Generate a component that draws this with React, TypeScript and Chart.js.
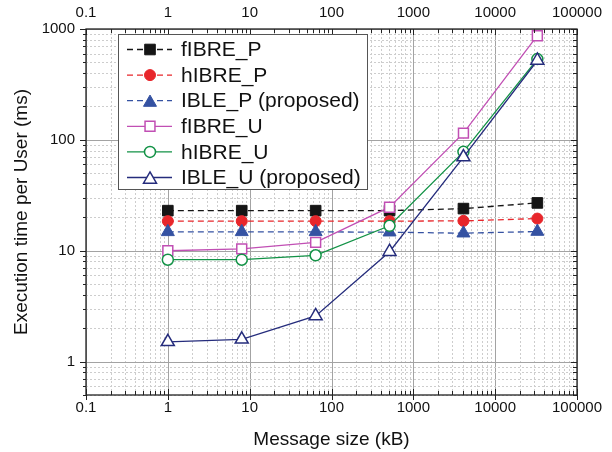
import React, { useEffect, useRef } from 'react';
import { Chart, registerables } from 'chart.js';

Chart.register(...registerables);

// ---- data ----
const messageSizes = [1, 8, 64, 512, 4096, 32768];
const fIBRE_P = [23.0, 23.0, 23.0, 23.0, 24.0, 27.0];
const hIBRE_P = [18.5, 18.5, 18.5, 18.5, 18.6, 19.5];
const IBLE_P = [14.8, 14.8, 14.8, 14.7, 14.4, 14.9];
const fIBRE_U = [10.0, 10.4, 11.9, 24.7, 115, 870];
const hIBRE_U = [8.3, 8.3, 9.1, 16.8, 78, 535];
const IBLE_U = [1.51, 1.59, 2.58, 9.8, 70, 520];

const seriesNames = ['fIBRE_P', 'hIBRE_P', 'IBLE_P (proposed)', 'fIBRE_U', 'hIBRE_U', 'IBLE_U (proposed)'];

const xTickValues = [0.1, 1, 10, 100, 1000, 10000, 100000];
const xTickLabels = ['0.1', '1', '10', '100', '1000', '10000', '100000'];
const yTickValues = [1, 10, 100, 1000];
const yTickLabels = ['1', '10', '100', '1000'];

const X_MIN = 0.1;
const X_MAX = 100000;
const Y_MIN = 0.5;
const Y_MAX = 1000;

const FONT = '"Liberation Sans", Arial, Helvetica, sans-serif';

function labelFor(values: number[], labels: string[], v: number): string {
  for (let i = 0; i < values.length; i++) {
    if (Math.abs(Math.log10(v) - Math.log10(values[i])) < 1e-6) return labels[i];
  }
  return '';
}

function logValues(min: number, max: number) {
  const out: { v: number; major: boolean }[] = [];
  const e0 = Math.floor(Math.log10(min));
  const e1 = Math.ceil(Math.log10(max));
  for (let e = e0; e <= e1; e++) {
    for (let m = 1; m <= 9; m++) {
      const v = m * Math.pow(10, e);
      if (v >= min * 0.9999 && v <= max * 1.0001) out.push({ v, major: m === 1 });
    }
  }
  return out;
}

function drawMarker(ctx: CanvasRenderingContext2D, style: string, x: number, y: number, r: number, fill: string, stroke: string, lw: number) {
  ctx.save();
  ctx.beginPath();
  if (style === 'rect') {
    const s = r * Math.SQRT1_2;
    ctx.rect(x - s, y - s, 2 * s, 2 * s);
  } else if (style === 'triangle') {
    let rad = 0;
    ctx.moveTo(x + Math.sin(rad) * r, y - Math.cos(rad) * r);
    rad += (2 * Math.PI) / 3;
    ctx.lineTo(x + Math.sin(rad) * r, y - Math.cos(rad) * r);
    rad += (2 * Math.PI) / 3;
    ctx.lineTo(x + Math.sin(rad) * r, y - Math.cos(rad) * r);
    ctx.closePath();
  } else {
    ctx.arc(x, y, r, 0, Math.PI * 2);
  }
  ctx.fillStyle = fill;
  ctx.fill();
  ctx.lineWidth = lw;
  ctx.strokeStyle = stroke;
  ctx.setLineDash([]);
  ctx.stroke();
  ctx.restore();
}

const gridPlugin = {
  id: 'customGrid',
  beforeDatasetsDraw(chart: any) {
    const { ctx, chartArea: a } = chart;
    const xs = chart.scales.x;
    const ys = chart.scales.y;
    ctx.save();
    ctx.lineWidth = 1;
    for (const t of logValues(X_MIN, X_MAX)) {
      const px = Math.round(xs.getPixelForValue(t.v)) + 0.5;
      ctx.beginPath();
      if (t.major) {
        ctx.setLineDash([]);
        ctx.strokeStyle = '#a3a3a3';
      } else {
        ctx.setLineDash([2, 2]);
        ctx.strokeStyle = '#cdcdcd';
      }
      ctx.moveTo(px, a.top);
      ctx.lineTo(px, a.bottom);
      ctx.stroke();
    }
    for (const t of logValues(Y_MIN, Y_MAX)) {
      const py = Math.round(ys.getPixelForValue(t.v)) + 0.5;
      ctx.beginPath();
      if (t.major) {
        ctx.setLineDash([]);
        ctx.strokeStyle = '#a3a3a3';
      } else {
        ctx.setLineDash([2, 2]);
        ctx.strokeStyle = '#cdcdcd';
      }
      ctx.moveTo(a.left, py);
      ctx.lineTo(a.right, py);
      ctx.stroke();
    }
    ctx.restore();
  },
  afterDatasetsDraw(chart: any) {
    const { ctx, chartArea: a } = chart;
    const xs = chart.scales.x;
    const ys = chart.scales.y;
    ctx.save();
    ctx.setLineDash([]);
    ctx.strokeStyle = '#222';
    ctx.lineWidth = 1.3;
    ctx.strokeRect(a.left, a.top, a.right - a.left, a.bottom - a.top);
    ctx.lineWidth = 1;
    ctx.beginPath();
    for (const t of logValues(X_MIN, X_MAX)) {
      const px = Math.round(xs.getPixelForValue(t.v)) + 0.5;
      const len = t.major ? 6 : 4;
      ctx.moveTo(px, a.bottom + (t.major ? 5 : 0));
      ctx.lineTo(px, a.bottom - len);
      ctx.moveTo(px, a.top);
      ctx.lineTo(px, a.top + len);
    }
    for (const t of logValues(Y_MIN, Y_MAX)) {
      const py = Math.round(ys.getPixelForValue(t.v)) + 0.5;
      const len = t.major ? 6 : 4;
      ctx.moveTo(a.left - (t.major ? 6 : 3), py);
      ctx.lineTo(a.left, py);
      ctx.moveTo(a.right, py);
      ctx.lineTo(a.right - len, py);
    }
    ctx.stroke();
    ctx.restore();
  },
  afterDraw(chart: any) {
    const { ctx } = chart;
    const datasets = chart.data.datasets;
    ctx.save();
    const bx = 118.5, by = 34.5, bw = 249, bh = 155;
    ctx.fillStyle = '#ffffff';
    ctx.fillRect(bx, by, bw, bh);
    ctx.strokeStyle = '#555';
    ctx.lineWidth = 1;
    ctx.setLineDash([]);
    ctx.strokeRect(bx, by, bw, bh);
    ctx.font = '21px ' + FONT;
    ctx.textBaseline = 'middle';
    ctx.textAlign = 'left';
    datasets.forEach((ds: any, i: number) => {
      const y = 49.5 + i * 25.6;
      ctx.beginPath();
      ctx.strokeStyle = ds.borderColor;
      ctx.lineWidth = ds.borderWidth;
      ctx.setLineDash(ds.borderDash || []);
      ctx.moveTo(127, y);
      ctx.lineTo(172, y);
      ctx.stroke();
      ctx.setLineDash([]);
      drawMarker(ctx, ds.pointStyle, 150, y + (ds.pointStyle === 'triangle' ? ds.pointRadius * 0.25 : 0), ds.pointRadius, ds.pointBackgroundColor, ds.pointBorderColor, ds.pointBorderWidth);
      ctx.fillStyle = '#111';
      ctx.fillText(ds.label, 181, y + 1);
    });
    ctx.restore();
  },
};

function toPoints(values: number[]) {
  return messageSizes.map((x, i) => ({ x, y: values[i] }));
}

export default function App() {
  const canvasRef = useRef<HTMLCanvasElement | null>(null);

  useEffect(() => {
    const canvas = canvasRef.current;
    if (!canvas) return;
    const dash = [6, 4];
    const mk = (label: string, values: number[], color: string, style: string, r: number, filled: boolean, dashed: boolean, order: number) => ({
      label,
      data: toPoints(values),
      borderColor: color,
      backgroundColor: color,
      borderWidth: 1.3,
      borderDash: dashed ? dash : [],
      pointStyle: style,
      pointRadius: r,
      pointHoverRadius: r,
      pointBackgroundColor: filled ? color : '#ffffff',
      pointBorderColor: color,
      pointBorderWidth: filled ? 1 : 1.5,
      tension: 0,
      fill: false,
      order,
    });
    const chart = new Chart(canvas, {
      type: 'line',
      data: {
        datasets: [
          mk(seriesNames[0], fIBRE_P, '#151515', 'rect', 7.5, true, true, 6),
          mk(seriesNames[1], hIBRE_P, '#e8262b', 'circle', 5.5, true, true, 5),
          mk(seriesNames[2], IBLE_P, '#3552a2', 'triangle', 7.5, true, true, 4),
          mk(seriesNames[3], fIBRE_U, '#c14fb4', 'rect', 7, false, false, 3),
          mk(seriesNames[4], hIBRE_U, '#129246', 'circle', 5.5, false, false, 2),
          mk(seriesNames[5], IBLE_U, '#252c7c', 'triangle', 7.5, false, false, 1),
        ] as any,
      },
      options: {
        responsive: false,
        animation: false,
        layout: { padding: 0 },
        plugins: {
          legend: { display: false },
          tooltip: { enabled: false },
        },
        scales: {
          x: {
            type: 'logarithmic',
            position: 'bottom',
            min: X_MIN,
            max: X_MAX,
            grid: { display: false, drawTicks: false },
            border: { display: false },
            ticks: {
              autoSkip: false,
              maxRotation: 0,
              minRotation: 0,
              padding: 4,
              color: '#111',
              font: { family: FONT, size: 15 },
              callback: (v: any) => labelFor(xTickValues, xTickLabels, Number(v)),
            },
            title: {
              display: true,
              text: 'Message size (kB)',
              color: '#111',
              font: { family: FONT, size: 19 },
              padding: { top: 0, bottom: 1 },
            },
            afterFit: (s: any) => { s.height = 57; },
          },
          x2: {
            type: 'logarithmic',
            position: 'top',
            min: X_MIN,
            max: X_MAX,
            grid: { display: false, drawTicks: false },
            border: { display: false },
            ticks: {
              autoSkip: false,
              maxRotation: 0,
              minRotation: 0,
              padding: 7,
              color: '#111',
              font: { family: FONT, size: 15 },
              callback: (v: any) => labelFor(xTickValues, xTickLabels, Number(v)),
            },
            afterFit: (s: any) => { s.height = 29; },
          },
          y: {
            type: 'logarithmic',
            position: 'left',
            min: Y_MIN,
            max: Y_MAX,
            grid: { display: false, drawTicks: false },
            border: { display: false },
            ticks: {
              autoSkip: false,
              padding: 11,
              color: '#111',
              font: { family: FONT, size: 15 },
              callback: (v: any) => labelFor(yTickValues, yTickLabels, Number(v)),
            },
            title: {
              display: true,
              text: 'Execution time per User (ms)',
              color: '#111',
              font: { family: FONT, size: 19 },
              padding: { top: 10, bottom: 0 },
            },
            afterFit: (s: any) => { s.width = 86; },
          },
          y2: {
            type: 'logarithmic',
            position: 'right',
            min: Y_MIN,
            max: Y_MAX,
            grid: { display: false, drawTicks: false },
            border: { display: false },
            ticks: { display: false },
            afterFit: (s: any) => { s.width = 35; },
          },
        },
      } as any,
      plugins: [gridPlugin],
    });
    return () => chart.destroy();
  }, []);

  return (
    <div style={{ position: 'absolute', left: 0, top: 0, width: 612, height: 452, background: '#fff' }}>
      <canvas ref={canvasRef} width={612} height={452} style={{ display: 'block' }} />
    </div>
  );
}
